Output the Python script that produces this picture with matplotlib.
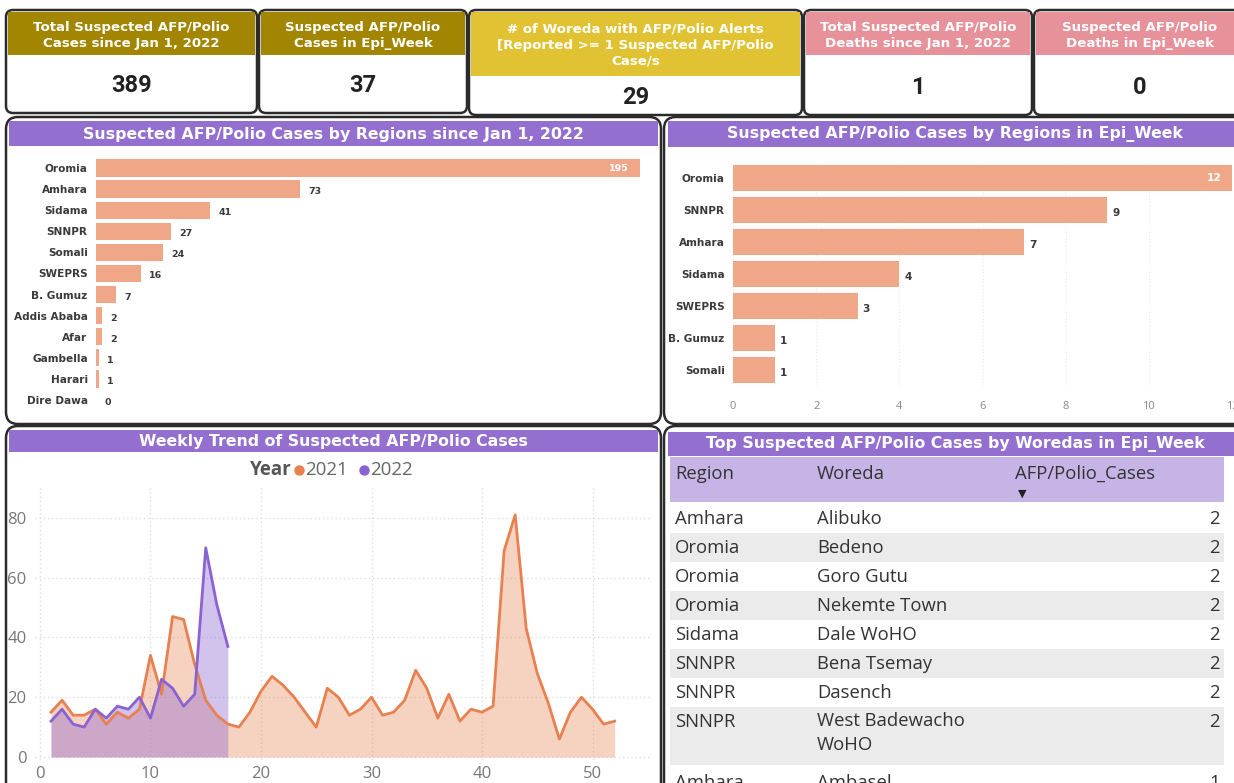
import numpy as np
import matplotlib
matplotlib.use("Agg")
import matplotlib.pyplot as plt
from matplotlib.patches import FancyBboxPatch, Rectangle

# ---------------- data ----------------
kpi_titles = ["Total Suspected AFP/Polio\nCases since Jan 1, 2022",
              "Suspected AFP/Polio\nCases in Epi_Week",
              "# of Woreda with AFP/Polio Alerts\n[Reported >= 1 Suspected AFP/Polio\nCase/s",
              "Total Suspected AFP/Polio\nDeaths since Jan 1, 2022",
              "Suspected AFP/Polio\nDeaths in Epi_Week"]
kpi_values = ["389", "37", "29", "1", "0"]

regions_total = ["Oromia", "Amhara", "Sidama", "SNNPR", "Somali", "SWEPRS", "B. Gumuz",
                 "Addis Ababa", "Afar", "Gambella", "Harari", "Dire Dawa"]
cases_total = [195, 73, 41, 27, 24, 16, 7, 2, 2, 1, 1, 0]

regions_week = ["Oromia", "SNNPR", "Amhara", "Sidama", "SWEPRS", "B. Gumuz", "Somali"]
cases_week = [12, 9, 7, 4, 3, 1, 1]

weeks_2021 = list(range(1, 53))
cases_2021 = [15, 19, 14, 14, 16, 11, 15, 13, 16, 34, 21, 47, 46, 31, 19, 14, 11, 10, 15, 22,
              27, 24, 20, 15, 10, 23, 20, 14, 16, 20, 14, 15, 19, 29, 23, 13, 21, 12, 16, 15,
              17, 69, 81, 43, 28, 18, 6, 15, 20, 16, 11, 12]
weeks_2022 = list(range(1, 18))
cases_2022 = [12, 16, 11, 10, 16, 13, 17, 16, 20, 13, 26, 23, 17, 21, 70, 51, 37]

table_cols = ["Region", "Woreda", "AFP/Polio_Cases"]
table_region = ["Amhara", "Oromia", "Oromia", "Oromia", "Sidama", "SNNPR", "SNNPR", "SNNPR", "Amhara"]
table_woreda = ["Alibuko", "Bedeno", "Goro Gutu", "Nekemte Town", "Dale WoHO", "Bena Tsemay",
                "Dasench", "West Badewacho\nWoHO", "Ambasel"]
table_cases = [2, 2, 2, 2, 2, 2, 2, 2, 1]

# ---------------- styling ----------------
W, H = 1234, 783
PURPLE = "#9370D0"
BAR = "#F0A788"
ORANGE = "#E8804F"
VIOLET = "#8A63D2"
TITLE_FONT = "DejaVu Sans"
TXT_FONT = "Open Sans"

fig = plt.figure(figsize=(W / 100, H / 100), dpi=100)
fig.patch.set_facecolor("white")

bg = fig.add_axes([0, 0, 1, 1], zorder=0)
bg.set_xlim(0, W)
bg.set_ylim(H, 0)
bg.axis("off")


def pxaxes(x, y, w, h, z=2):
    return fig.add_axes([x / W, 1 - (y + h) / H, w / W, h / H], zorder=z)


def rbox(x, y, w, h, r=9, lw=1.8, ec="#2b2b2b", fc="white"):
    bg.add_patch(FancyBboxPatch((x, y), w, h, boxstyle=f"round,pad=0,rounding_size={r}",
                                lw=lw, ec=ec, fc=fc, zorder=1))


def band(x, y, w, h, color, text, cx=None, size=11.3):
    bg.add_patch(Rectangle((x, y), w, h, fc=color, ec="none", zorder=2))
    bg.text(cx if cx is not None else x + w / 2, y + h / 2 + 0.5, text, ha="center", va="center",
            color="white", fontsize=size, fontweight="bold", family=TITLE_FONT, zorder=3)


# ---------------- KPI cards ----------------
cards = [(6, 10, 251, 103, "#A28500", 43, 85),
         (259, 10, 208, 103, "#A28500", 43, 85),
         (469, 10, 333, 105, "#E0C232", 64, 97),
         (804, 10, 228, 105, "#E7919B", 43, 87),
         (1034, 10, 215, 105, "#E7919B", 43, 87)]
for (x, y, w, h, col, hh, vy), title, val in zip(cards, kpi_titles, kpi_values):
    rbox(x, y, w, h, r=7)
    bg.add_patch(Rectangle((x + 2, y + 2), w - 4, hh, fc=col, ec="none", zorder=2))
    cx = x + w / 2 if x < 1000 else 1140
    bg.text(cx, y + 2 + hh / 2 + 1.5, title, ha="center", va="center", color="white",
            fontsize=9.6, fontweight="bold", family=TITLE_FONT, linespacing=1.3, zorder=3)
    bg.text(cx, vy, val, ha="center", va="center", color="#222222",
            fontsize=17, fontweight="bold", family="Roboto", zorder=3)

# ---------------- panel frames ----------------
rbox(6, 117, 655, 307, r=12)
rbox(664, 117, 600, 307, r=12)
rbox(6, 426, 655, 400, r=12)
rbox(664, 426, 600, 400, r=12)
band(9, 121, 649, 25, PURPLE, "Suspected AFP/Polio Cases by Regions since Jan 1, 2022")
band(668, 121, 600, 26, PURPLE, "Suspected AFP/Polio Cases by Regions in Epi_Week", cx=955)
band(9, 430, 649, 22, PURPLE, "Weekly Trend of Suspected AFP/Polio Cases")
band(668, 432, 600, 24, PURPLE, "Top Suspected AFP/Polio Cases by Woredas in Epi_Week", cx=955)

# ---------------- left bar chart ----------------
ax1 = pxaxes(96, 157.5, 544, 253)
ax1.patch.set_alpha(0)
ypos = np.arange(len(regions_total))
ax1.barh(ypos, cases_total, height=0.82, color=BAR)
ax1.set_xlim(0, 195)
ax1.set_ylim(len(regions_total) - 0.5, -0.5)
ax1.set_yticks(ypos)
ax1.set_yticklabels(regions_total, fontsize=7.6, fontweight="bold", color="#3a3a3a", family=TITLE_FONT)
ax1.tick_params(axis="y", length=0, pad=6)
ax1.set_xticks([])
for s in ax1.spines.values():
    s.set_visible(False)
for yi, v in zip(ypos, cases_total):
    if v == max(cases_total):
        ax1.text(v - 4, yi, str(v), ha="right", va="center", fontsize=6.8, fontweight="bold",
                 color="white", family=TITLE_FONT)
    else:
        ax1.text(v + 3, yi + 0.12, str(v), ha="left", va="center", fontsize=6.8, fontweight="bold",
                 color="#3a3a3a", family=TITLE_FONT)

# ---------------- right bar chart ----------------
ax2 = pxaxes(733, 162, 499, 224)
ax2.patch.set_alpha(0)
ypos2 = np.arange(len(regions_week))
ax2.barh(ypos2, cases_week, height=0.8, color=BAR, zorder=2)
ax2.set_xlim(0, 12)
ax2.set_ylim(len(regions_week) - 0.5, -0.5)
ax2.set_yticks(ypos2)
ax2.set_yticklabels(regions_week, fontsize=7.6, fontweight="bold", color="#3a3a3a", family=TITLE_FONT)
ax2.set_xticks(range(0, 13, 2))
ax2.set_xticklabels([str(t) for t in range(0, 13, 2)], fontsize=8, color="#8a8a8a", family=TXT_FONT)
ax2.tick_params(axis="y", length=0, pad=6)
ax2.tick_params(axis="x", length=0, pad=11)
ax2.grid(axis="x", color="#e8e8e8", lw=0.8, ls=(0, (1, 2)), zorder=0)
for s in ax2.spines.values():
    s.set_visible(False)
for yi, v in zip(ypos2, cases_week):
    if v == max(cases_week):
        ax2.text(v - 0.25, yi, str(v), ha="right", va="center", fontsize=7.6, fontweight="bold",
                 color="white", family=TITLE_FONT)
    else:
        ax2.text(v + 0.12, yi + 0.08, str(v), ha="left", va="center", fontsize=7.6, fontweight="bold",
                 color="#3a3a3a", family=TITLE_FONT)

# ---------------- line chart ----------------
ax3 = pxaxes(35, 488, 615, 272)
ax3.patch.set_alpha(0)
ax3.fill_between(weeks_2021, cases_2021, 0, color=ORANGE, alpha=0.35, lw=0)
ax3.plot(weeks_2021, cases_2021, color=ORANGE, lw=2)
ax3.fill_between(weeks_2022, cases_2022, 0, color=VIOLET, alpha=0.38, lw=0)
ax3.plot(weeks_2022, cases_2022, color=VIOLET, lw=2)
ax3.set_xlim(-0.45, 55.2)
ax3.set_ylim(-1, 90)
ax3.set_yticks([0, 20, 40, 60, 80])
ax3.set_xticks([0, 10, 20, 30, 40, 50])
ax3.tick_params(length=0, labelsize=12, labelcolor="#777777")
ax3.tick_params(axis="x", pad=4)
ax3.tick_params(axis="y", pad=6)
for lab in ax3.get_xticklabels() + ax3.get_yticklabels():
    lab.set_family(TXT_FONT)
ax3.grid(True, color="#dddddd", lw=1.0, ls=(0, (1, 2)))
ax3.set_axisbelow(True)
for s in ax3.spines.values():
    s.set_visible(False)

# legend (manual)
bg.text(292, 470, "Year", ha="right", va="center", fontsize=13.5, fontweight="bold",
        color="#555555", family=TXT_FONT, zorder=3)
bg.plot([299], [470], "o", ms=6.5, color=ORANGE, zorder=3)
bg.text(305, 470, "2021", ha="left", va="center", fontsize=13.5, color="#666666", family=TXT_FONT, zorder=3)
bg.plot([364], [470], "o", ms=6.5, color=VIOLET, zorder=3)
bg.text(370, 470, "2022", ha="left", va="center", fontsize=13.5, color="#666666", family=TXT_FONT, zorder=3)

# ---------------- table ----------------
bg.add_patch(Rectangle((670, 457), 554, 45, fc="#C6B4E6", ec="none", zorder=2))
col_x = [675, 817, 1015]
for cx, name in zip(col_x, table_cols):
    bg.text(cx, 474, name, ha="left", va="center", fontsize=13.3, color="#333333",
            family=TXT_FONT, zorder=3)
bg.text(1022, 494, "\u25BC", ha="center", va="center", fontsize=8, color="#222222", zorder=3)

row_top = 504
for i, (rg, wd, cs) in enumerate(zip(table_region, table_woreda, table_cases)):
    nlines = wd.count("\n") + 1
    rh = 29 * nlines
    if i % 2 == 1:
        bg.add_patch(Rectangle((670, row_top), 554, rh, fc="#EBEBEB", ec="none", zorder=2))
    ty = row_top + 15
    bg.text(675, ty, rg, ha="left", va="center", fontsize=13.3, color="#333333", family=TXT_FONT, zorder=3)
    if nlines > 1:
        bg.text(817, row_top + 5, wd, ha="left", va="top", fontsize=13.3, color="#333333",
                family=TXT_FONT, linespacing=1.45, zorder=3)
    else:
        bg.text(817, ty, wd, ha="left", va="center", fontsize=13.3, color="#333333",
                family=TXT_FONT, zorder=3)
    bg.text(1220, ty, str(cs), ha="right", va="center", fontsize=13.3, color="#333333",
            family=TXT_FONT, zorder=3)
    row_top += rh + (3 if nlines > 1 else 0)

fig.savefig("out.png", dpi=100, facecolor="white")
